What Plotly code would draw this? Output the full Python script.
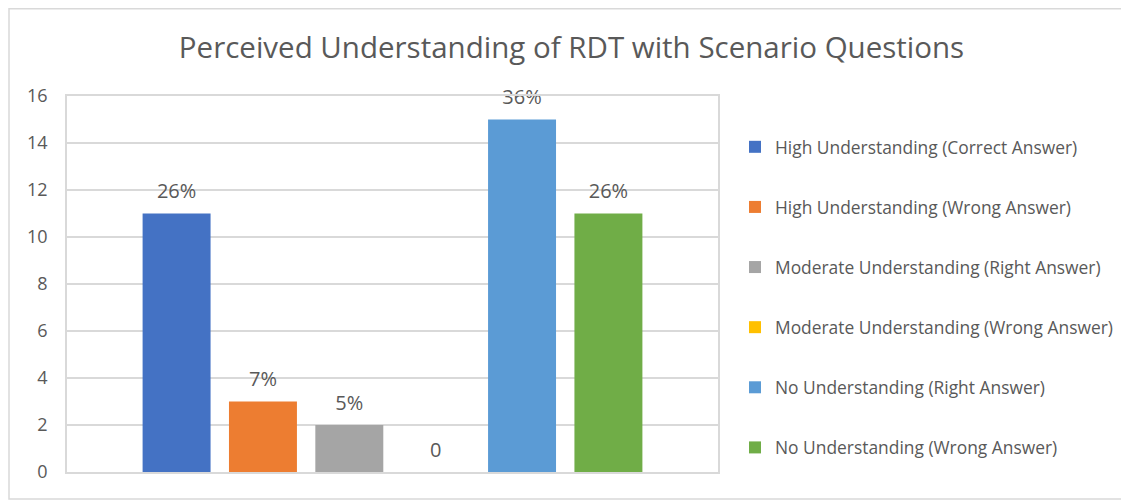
import plotly.graph_objects as go

series_names = [
    "High Understanding (Correct Answer)",
    "High Understanding (Wrong Answer)",
    "Moderate Understanding (Right Answer)",
    "Moderate Understanding (Wrong Answer)",
    "No Understanding (Right Answer)",
    "No Understanding (Wrong Answer)",
]
values = [11, 3, 2, 0, 15, 11]
labels = ["26%", "7%", "5%", "0", "36%", "26%"]
colors = ["#4472C4", "#ED7D31", "#A5A5A5", "#FFC000", "#5B9BD5", "#70AD47"]
category = [""]
y_ticks = [0, 2, 4, 6, 8, 10, 12, 14, 16]

FONT = "Open Sans"
TXT = "#595959"
GRID = "#d9d9d9"

fig = go.Figure()
for name, v, lab, c in zip(series_names, values, labels, colors):
    fig.add_trace(go.Bar(
        x=category, y=[v], name=name, marker=dict(color=c, line=dict(width=0)),
        text=["<span style='font-size:20px'>" + lab + "</span><br> "],
        textposition="outside", cliponaxis=False, constraintext="none",
        textfont=dict(family=FONT, size=8, color=TXT),
        legendgroup=name,
    ))

# page is offset 8px by the browser body margin; work in figure coords
OFF = 8
W, H = 1129 - OFF, 500 - OFF
L, R, T, B = 67 - OFF, 718 - OFF, 96 - OFF, 472 - OFF
fig.update_layout(
    width=W, height=H,
    margin=dict(l=L, r=W - R, t=T, b=H - B, autoexpand=False),
    paper_bgcolor="white", plot_bgcolor="white",
    barmode="group", bargap=0.204, bargroupgap=0.213,
    title=dict(text="Perceived Understanding of RDT with Scenario Questions",
               x=(571.5 - OFF) / W, xref="container", xanchor="center",
               y=1 - (47.5 - OFF) / H, yanchor="middle", yref="container",
               font=dict(family=FONT, size=29.5, color=TXT)),
    font=dict(family=FONT, color=TXT),
    showlegend=True,
    legend=dict(x=(735 - OFF - L) / (R - L), xanchor="left",
                y=(B - (129 - OFF)) / (B - T), yanchor="top",
                font=dict(family=FONT, size=17.4, color=TXT), tracegroupgap=34.5,
                traceorder="grouped", bgcolor="rgba(0,0,0,0)"),
    xaxis=dict(showticklabels=False, showgrid=False, showline=True, mirror=True,
               linecolor=GRID, linewidth=1.5, ticks="", zeroline=False),
    yaxis=dict(range=[0, 16], tickvals=y_ticks, showgrid=True, gridcolor=GRID, gridwidth=1.5,
               showline=True, mirror=True, linecolor=GRID, linewidth=1.5, zeroline=False,
               ticks="", ticklabelstandoff=14,
               tickfont=dict(family=FONT, size=18, color=TXT)),
    shapes=[dict(type="rect", xref="paper", yref="paper",
                 x0=(9 - OFF - L) / (R - L), x1=1.8,
                 y0=(B - (499 - OFF)) / (B - T), y1=(B - 0.75) / (B - T),
                 line=dict(color=GRID, width=1.5), fillcolor="rgba(0,0,0,0)", layer="below")],
)

fig.write_html("out.html")
